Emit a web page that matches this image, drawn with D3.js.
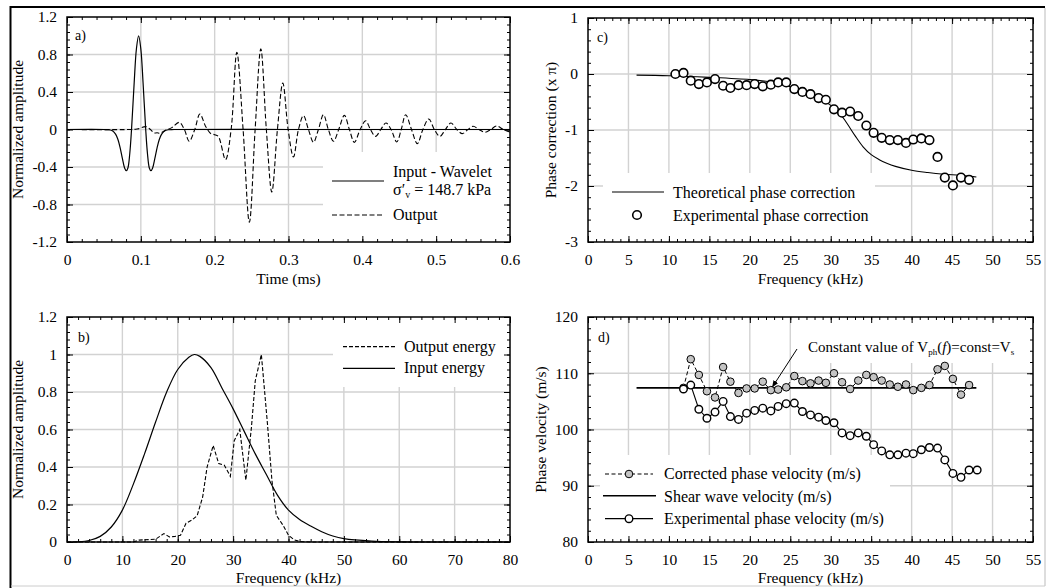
<!DOCTYPE html>
<html>
<head>
<meta charset="utf-8">
<script src="https://cdn.jsdelivr.net/npm/d3@7"></script>
<style>
    body { margin: 0; background: #fff; }
    svg { font-family: "Liberation Serif", "Times New Roman", serif; }
    .grid line { stroke: #d2d2d2; stroke-width: 1.4; }
    .axis path { display: none; }
    .axis line { stroke: #000; stroke-width: 1; }
    .axis text { font-size: 15.5px; fill: #000; font-family: "Liberation Serif", serif; }
    .title { font-size: 15.5px; fill: #000; }
    .leg { font-size: 16px; fill: #000; }
</style>
</head>
<body>
<div id="chart"></div>
<script>
// ---------- data ----------

// a) time (ms), normalized amplitude
const inputWavelet = [
    [0, 0], [0.05, 0], [0.057, -0.003], [0.062, -0.016], [0.066, -0.052], [0.069, -0.107],
    [0.072, -0.195], [0.075, -0.308], [0.078, -0.41], [0.0803, -0.44], [0.0825, -0.41],
    [0.085, -0.258], [0.0874, 0], [0.091, 0.502], [0.094, 0.859], [0.097, 1.0], [0.100, 0.859],
    [0.103, 0.502], [0.1066, 0], [0.109, -0.258], [0.1115, -0.41], [0.1137, -0.44], [0.116, -0.41],
    [0.119, -0.308], [0.122, -0.195], [0.125, -0.107], [0.128, -0.052], [0.132, -0.016],
    [0.137, -0.003], [0.145, 0], [0.3, 0], [0.45, 0], [0.6, 0]
];
const outputWave = [
    [0, 0], [0.085, 0], [0.095, 0.005], [0.107, 0.03], [0.113, 0.0], [0.118, -0.037], [0.122, -0.035],
    [0.126, -0.04], [0.133, -0.01], [0.142, 0.02], [0.152, 0.076], [0.159, 0], [0.1655, -0.126],
    [0.173, 0], [0.180, 0.165], [0.188, 0.03], [0.195, -0.045], [0.200, -0.055], [0.205, -0.075],
    [0.2147, -0.32], [0.2223, 0], [0.230, 0.823], [0.2385, 0], [0.247, -0.99], [0.2548, 0],
    [0.2625, 0.86], [0.270, 0], [0.2774, -0.667], [0.285, 0], [0.2923, 0.496], [0.2995, 0],
    [0.3067, -0.293], [0.3135, 0], [0.3203, 0.148], [0.327, 0], [0.3338, -0.137], [0.3405, 0],
    [0.3473, 0.158], [0.354, 0], [0.3609, -0.126], [0.368, 0], [0.3757, 0.151], [0.3825, 0],
    [0.3892, -0.137], [0.397, 0], [0.4045, 0.094], [0.411, 0], [0.418, -0.073], [0.425, 0],
    [0.432, 0.07], [0.439, 0], [0.4466, -0.133], [0.4527, 0], [0.4587, 0.158], [0.4666, 0],
    [0.4745, -0.151], [0.482, 0], [0.490, 0.112], [0.4975, 0], [0.505, -0.073], [0.5125, 0],
    [0.520, 0.07], [0.528, 0], [0.5355, -0.044], [0.543, 0], [0.550, 0.034], [0.558, 0],
    [0.566, -0.03], [0.574, 0], [0.582, 0.037], [0.591, 0], [0.6, -0.027]
];

// b) frequency (kHz), normalized energy
const inputEnergy = [
    [0, 0], [2, 0.001], [4, 0.008], [6, 0.03], [8, 0.08], [10, 0.17], [12, 0.31], [14, 0.47],
    [16, 0.64], [18, 0.8], [20, 0.92], [22, 0.985], [23, 1.0], [24, 0.99], [26, 0.93], [28, 0.82],
    [30, 0.71], [32, 0.59], [34, 0.47], [36, 0.36], [38, 0.25], [40, 0.17], [42, 0.12], [44, 0.085],
    [46, 0.055], [48, 0.032], [50, 0.018], [55, 0.005], [60, 0.001], [70, 0], [80, 0]
];
const outputEnergy = [
    [0, 0], [12, 0], [13, 0.01], [16, 0.015], [17.5, 0.045], [18.5, 0.027], [19.5, 0.03],
    [20.5, 0.036], [21.5, 0.1], [22.5, 0.116], [23.5, 0.14], [24.5, 0.24], [25.3, 0.4], [26.4, 0.515],
    [27.4, 0.418], [28.4, 0.41], [29.5, 0.35], [30.2, 0.54], [31.2, 0.6], [32.3, 0.33], [33.3, 0.61],
    [34.0, 0.86], [35.1, 1.0], [36.2, 0.63], [37.0, 0.33], [37.8, 0.142], [39, 0.09], [40, 0.036],
    [41, 0.012], [42, 0.003], [44, 0], [80, 0]
];

// c) phase correction (x pi)
const theoryPhase = [
    [6, -0.02], [10, -0.03], [15, -0.06], [20, -0.1], [22, -0.13], [24, -0.19], [26, -0.27],
    [28, -0.38], [29, -0.46], [30, -0.56], [31, -0.68], [32, -0.88], [33, -1.1], [34, -1.3],
    [35, -1.44], [36, -1.53], [37, -1.6], [38, -1.65], [40, -1.72], [42, -1.76], [44, -1.79],
    [46, -1.81], [48, -1.84]
];
const phaseFreq = [10.8, 11.8, 12.7, 13.7, 14.7, 15.7, 16.7, 17.6, 18.6, 19.6, 20.6, 21.6, 22.6,
    23.5, 24.5, 25.5, 26.5, 27.5, 28.5, 29.4, 30.4, 31.4, 32.4, 33.4, 34.4, 35.3, 36.3, 37.3,
    38.3, 39.3, 40.2, 41.2, 42.2, 43.2, 44.1, 45.1, 46.1, 47.1];
const phaseExp = [0.0, 0.02, -0.12, -0.18, -0.15, -0.09, -0.21, -0.25, -0.2, -0.2, -0.18, -0.22,
    -0.19, -0.15, -0.15, -0.27, -0.32, -0.36, -0.43, -0.46, -0.63, -0.69, -0.67, -0.75, -0.92,
    -1.05, -1.14, -1.18, -1.18, -1.23, -1.17, -1.15, -1.18, -1.48, -1.85, -1.99, -1.85, -1.89];

// d) phase velocity (m/s)
const velFreq = [11.8, 12.7, 13.7, 14.7, 15.7, 16.7, 17.6, 18.6, 19.6, 20.6, 21.6, 22.6, 23.5,
    24.5, 25.5, 26.5, 27.5, 28.5, 29.4, 30.4, 31.4, 32.4, 33.4, 34.4, 35.3, 36.3, 37.3, 38.3,
    39.3, 40.2, 41.2, 42.2, 43.2, 44.1, 45.1, 46.1, 47.1, 48.1];
const correctedVel = [107.4, 112.5, 109.7, 106.8, 105.7, 111.1, 108.5, 106.5, 107.3, 107.3,
    108.5, 107.0, 107.1, 107.5, 109.5, 108.6, 108.2, 108.7, 108.3, 110.0, 108.4, 107.2, 108.7,
    109.7, 109.3, 108.7, 108.0, 107.6, 108.0, 107.0, 107.4, 107.9, 110.7, 111.3, 109.0, 106.2, 107.9];
const experimentalVel = [107.2, 107.9, 103.6, 102.0, 103.1, 105.0, 102.3, 101.8, 102.9, 103.4,
    103.8, 103.3, 104.1, 104.6, 104.7, 103.2, 102.6, 102.2, 101.6, 101.2, 99.4, 98.9, 99.4, 98.8,
    97.3, 96.2, 95.5, 95.5, 95.8, 95.7, 96.4, 96.8, 96.7, 94.6, 92.2, 91.5, 92.8, 92.8];
const shearVel = [[6, 107.4], [48, 107.4]];

// tick labels
const aTicksX = [0, 0.1, 0.2, 0.3, 0.4, 0.5, 0.6];
const aTicksY = [-1.2, -0.8, -0.4, 0, 0.4, 0.8, 1.2];
const bTicksX = [0, 10, 20, 30, 40, 50, 60, 70, 80];
const bTicksY = [0, 0.2, 0.4, 0.6, 0.8, 1, 1.2];
const cTicksX = [0, 5, 10, 15, 20, 25, 30, 35, 40, 45, 50, 55];
const cTicksY = [-3, -2, -1, 0, 1];
const dTicksY = [80, 90, 100, 110, 120];

// ---------- drawing ----------
const svg = d3.select("#chart").append("svg").attr("width", 1047).attr("height", 588);

function fmt(d) { return String(+d.toFixed(2)); }

// grid and scales for one panel
function makePanel(p) {
    const g = svg.append("g").attr("transform", `translate(${p.left},${p.top})`);
    const w = p.width, h = p.height;
    const x = d3.scaleLinear().domain(p.xDomain).range([0, w]);
    const y = d3.scaleLinear().domain(p.yDomain).range([h, 0]);

    const grid = g.append("g").attr("class", "grid");
    grid.selectAll(".gv").data(p.xTicks.slice(1, -1)).join("line")
        .attr("x1", d => x(d)).attr("x2", d => x(d)).attr("y1", 0).attr("y2", h);
    grid.selectAll(".gh").data(p.yTicks.slice(1, -1)).join("line")
        .attr("class", "gh")
        .attr("y1", d => y(d)).attr("y2", d => y(d)).attr("x1", 0).attr("x2", w);

    // white boxes behind legends
    (p.boxes || []).forEach(b => {
        g.append("rect").attr("x", b[0]).attr("y", b[1])
            .attr("width", b[2] - b[0]).attr("height", b[3] - b[1]).attr("fill", "#fff");
    });
    return { g, x, y, w, h, p };
}

// border, inward ticks on four sides, labels and titles
function finishPanel(vis) {
    const { g, x, y, w, h, p } = vis;
    g.append("rect").attr("width", w).attr("height", h)
        .attr("fill", "none").attr("stroke", "#000").attr("stroke-width", 1.5);

    const sides = [
        [() => d3.axisBottom(x), `translate(0,${h})`, p.xTicks, p.xMinor],
        [() => d3.axisTop(x), "translate(0,0)", p.xTicks, p.xMinor],
        [() => d3.axisLeft(y), "translate(0,0)", p.yTicks, p.yMinor],
        [() => d3.axisRight(y), `translate(${w},0)`, p.yTicks, p.yMinor]
    ];
    sides.forEach(([mk, tr, major, minor]) => {
        g.append("g").attr("class", "axis").attr("transform", tr)
            .call(mk().tickValues(minor).tickSize(-3).tickFormat(""));
        g.append("g").attr("class", "axis").attr("transform", tr)
            .call(mk().tickValues(major).tickSize(-6).tickFormat(""));
    });

    g.append("g").attr("class", "axis").attr("transform", `translate(0,${h})`)
        .call(d3.axisBottom(x).tickValues(p.xTicks).tickSize(0).tickPadding(12).tickFormat(fmt));
    g.append("g").attr("class", "axis")
        .call(d3.axisLeft(y).tickValues(p.yTicks).tickSize(0).tickPadding(10).tickFormat(fmt));

    g.append("text").attr("class", "title")
        .attr("x", w / 2).attr("y", h + p.xTitleY).attr("text-anchor", "middle")
        .text(p.xTitle);
    g.append("text").attr("class", "title")
        .attr("transform", `translate(${p.yTitleX},${h / 2}) rotate(-90)`)
        .attr("text-anchor", "middle").attr("dominant-baseline", "middle")
        .text(p.yTitle);
    g.append("text").attr("x", p.letter[1]).attr("y", p.letter[2])
        .attr("font-size", 14).text(p.letter[0]);
}

function legendLine(g, x1, x2, yy, dash) {
    g.append("line").attr("x1", x1).attr("x2", x2).attr("y1", yy).attr("y2", yy)
        .attr("stroke", "#000").attr("stroke-width", 1.2)
        .attr("stroke-dasharray", dash || null);
}
function legendText(g, x, yy, txt) {
    return g.append("text").attr("class", "leg").attr("x", x).attr("y", yy).text(txt);
}

// ----- panel a -----
const pa = makePanel({
    left: 67, top: 17, width: 443, height: 225,
    xDomain: [0, 0.6], yDomain: [-1.2, 1.2],
    xTicks: aTicksX, yTicks: aTicksY,
    xMinor: d3.range(0, 0.6001, 0.02), yMinor: d3.range(-1.2, 1.2001, 0.08),
    xTitle: "Time (ms)", yTitle: "Normalized amplitude", xTitleY: 42, yTitleX: -48,
    letter: ["a)", 8, 23],
    boxes: [[256, 135, 443, 225]]
});
const lineA = d3.line().x(d => pa.x(d[0])).y(d => pa.y(d[1])).curve(d3.curveCatmullRom.alpha(0.5));
pa.g.append("path").datum(outputWave).attr("d", lineA)
    .attr("fill", "none").attr("stroke", "#000").attr("stroke-width", 1.1).attr("stroke-dasharray", "5,2.5");
pa.g.append("path").datum(inputWavelet).attr("d", lineA)
    .attr("fill", "none").attr("stroke", "#000").attr("stroke-width", 1.2);
finishPanel(pa);
legendLine(pa.g, 265, 317, 164);
legendText(pa.g, 326, 159.5, "Input - Wavelet");
const sig = legendText(pa.g, 326, 178, "σ′");
sig.append("tspan").attr("font-size", 10).attr("dy", 3).text("v");
sig.append("tspan").attr("dy", -3).text(" = 148.7 kPa");
legendLine(pa.g, 265, 317, 198, "5,2.5");
legendText(pa.g, 326, 203, "Output");

// ----- panel b -----
const pb = makePanel({
    left: 67, top: 317, width: 443, height: 225,
    xDomain: [0, 80], yDomain: [0, 1.2],
    xTicks: bTicksX, yTicks: bTicksY,
    xMinor: d3.range(0, 80.001, 2), yMinor: d3.range(0, 1.2001, 0.04),
    xTitle: "Frequency (kHz)", yTitle: "Normalized amplitude", xTitleY: 41, yTitleX: -48,
    letter: ["b)", 11, 25],
    boxes: [[266, 0, 443, 70]]
});
const lineB = d3.line().x(d => pb.x(d[0])).y(d => pb.y(d[1]));
pb.g.append("path").datum(inputEnergy).attr("d", lineB.curve(d3.curveCatmullRom.alpha(0.5)))
    .attr("fill", "none").attr("stroke", "#000").attr("stroke-width", 1.2);
pb.g.append("path").datum(outputEnergy).attr("d", lineB.curve(d3.curveLinear))
    .attr("fill", "none").attr("stroke", "#000").attr("stroke-width", 1.1).attr("stroke-dasharray", "4,2");
finishPanel(pb);
legendLine(pb.g, 276, 328, 29.7, "4,2");
legendText(pb.g, 337, 34.7, "Output energy");
legendLine(pb.g, 276, 328, 51.3);
legendText(pb.g, 337, 56.3, "Input energy");

// ----- panel c -----
const pc = makePanel({
    left: 588, top: 18, width: 445, height: 224,
    xDomain: [0, 55], yDomain: [-3, 1],
    xTicks: cTicksX, yTicks: cTicksY,
    xMinor: d3.range(0, 55.001, 1), yMinor: d3.range(-3, 1.001, 0.2),
    xTitle: "Frequency (kHz)", yTitle: "Phase correction (x π)", xTitleY: 42, yTitleX: -36,
    letter: ["c)", 9, 24],
    boxes: [[15, 155, 287, 224]]
});
pc.g.append("path").datum(theoryPhase)
    .attr("d", d3.line().x(d => pc.x(d[0])).y(d => pc.y(d[1])).curve(d3.curveCatmullRom.alpha(0.5)))
    .attr("fill", "none").attr("stroke", "#000").attr("stroke-width", 1.1);
pc.g.selectAll(".pt").data(phaseFreq).join("circle")
    .attr("cx", d => pc.x(d)).attr("cy", (d, i) => pc.y(phaseExp[i])).attr("r", 4.3)
    .attr("fill", "#fff").attr("stroke", "#000").attr("stroke-width", 1.6);
finishPanel(pc);
legendLine(pc.g, 24, 76, 174);
legendText(pc.g, 85, 180.3, "Theoretical phase correction");
pc.g.append("circle").attr("cx", 49).attr("cy", 197).attr("r", 4.3)
    .attr("fill", "#fff").attr("stroke", "#000").attr("stroke-width", 1.6);
legendText(pc.g, 85, 202.7, "Experimental phase correction");

// ----- panel d -----
const pd = makePanel({
    left: 588, top: 317, width: 445, height: 225,
    xDomain: [0, 55], yDomain: [80, 120],
    xTicks: cTicksX, yTicks: dTicksY,
    xMinor: d3.range(0, 55.001, 1), yMinor: d3.range(80, 120.001, 2),
    xTitle: "Frequency (kHz)", yTitle: "Phase velocity (m/s)", xTitleY: 41, yTitleX: -46,
    letter: ["d)", 10, 25],
    boxes: [[215, 0, 445, 46], [12, 138, 302, 225]]
});
const lineD = d3.line().x(d => pd.x(d[0])).y(d => pd.y(d[1]));
const corr = velFreq.slice(0, correctedVel.length).map((f, i) => [f, correctedVel[i]]);
const expv = velFreq.map((f, i) => [f, experimentalVel[i]]);
pd.g.append("path").datum(corr).attr("d", lineD)
    .attr("fill", "none").attr("stroke", "#000").attr("stroke-width", 1).attr("stroke-dasharray", "4,2.5");
pd.g.append("path").datum(shearVel).attr("d", lineD)
    .attr("fill", "none").attr("stroke", "#000").attr("stroke-width", 1.6);
pd.g.append("path").datum(expv).attr("d", lineD)
    .attr("fill", "none").attr("stroke", "#000").attr("stroke-width", 1.1);
pd.g.selectAll(".cv").data(corr).join("circle")
    .attr("cx", d => pd.x(d[0])).attr("cy", d => pd.y(d[1])).attr("r", 3.8)
    .attr("fill", "#c4c4c4").attr("stroke", "#000").attr("stroke-width", 1);
pd.g.selectAll(".ev").data(expv).join("circle")
    .attr("cx", d => pd.x(d[0])).attr("cy", d => pd.y(d[1])).attr("r", 3.8)
    .attr("fill", "#fff").attr("stroke", "#000").attr("stroke-width", 1.4);
finishPanel(pd);

// annotation with arrow
svg.append("defs").append("marker").attr("id", "arr")
    .attr("viewBox", "0 0 10 10").attr("refX", 9).attr("refY", 5)
    .attr("markerWidth", 7).attr("markerHeight", 7).attr("orient", "auto")
    .append("path").attr("d", "M0,1 L10,5 L0,9 Z").attr("fill", "#000");
pd.g.append("line").attr("x1", 209).attr("y1", 32)
    .attr("x2", pd.x(22.8)).attr("y2", pd.y(shearVel[0][1]) - 1)
    .attr("stroke", "#000").attr("stroke-width", 1).attr("marker-end", "url(#arr)");
const ann = pd.g.append("text").attr("x", 220).attr("y", 34.5).attr("font-size", 15).text("Constant value of V");
ann.append("tspan").attr("font-size", 9).attr("dy", 3).text("ph");
ann.append("tspan").attr("dy", -3).text("(");
ann.append("tspan").attr("font-style", "italic").text("f");
ann.append("tspan").text(")=const=V");
ann.append("tspan").attr("font-size", 9).attr("dy", 3).text("s");

// legend d
legendLine(pd.g, 17, 65, 157, "4,2.5");
pd.g.append("circle").attr("cx", 41).attr("cy", 157).attr("r", 3.8)
    .attr("fill", "#c4c4c4").attr("stroke", "#000").attr("stroke-width", 1);
legendText(pd.g, 76, 162.3, "Corrected phase velocity (m/s)");
pd.g.append("line").attr("x1", 15).attr("x2", 68).attr("y1", 178.7).attr("y2", 178.7)
    .attr("stroke", "#000").attr("stroke-width", 1.6);
legendText(pd.g, 76, 184.7, "Shear wave velocity (m/s)");
legendLine(pd.g, 17, 65, 201.7);
pd.g.append("circle").attr("cx", 41).attr("cy", 201.7).attr("r", 3.8)
    .attr("fill", "#fff").attr("stroke", "#000").attr("stroke-width", 1.4);
legendText(pd.g, 76, 207, "Experimental phase velocity (m/s)");

// outer frame
svg.append("line").attr("x1", 10).attr("x2", 1045).attr("y1", 7).attr("y2", 7).attr("stroke", "#000").attr("stroke-width", 2);
svg.append("line").attr("x1", 10.5).attr("x2", 10.5).attr("y1", 6).attr("y2", 588).attr("stroke", "#000").attr("stroke-width", 2);
svg.append("line").attr("x1", 1045).attr("x2", 1045).attr("y1", 8).attr("y2", 586).attr("stroke", "#bbb").attr("stroke-width", 1);
svg.append("line").attr("x1", 11).attr("x2", 1045).attr("y1", 586).attr("y2", 586).attr("stroke", "#ccc").attr("stroke-width", 1);
</script>
</body>
</html>
